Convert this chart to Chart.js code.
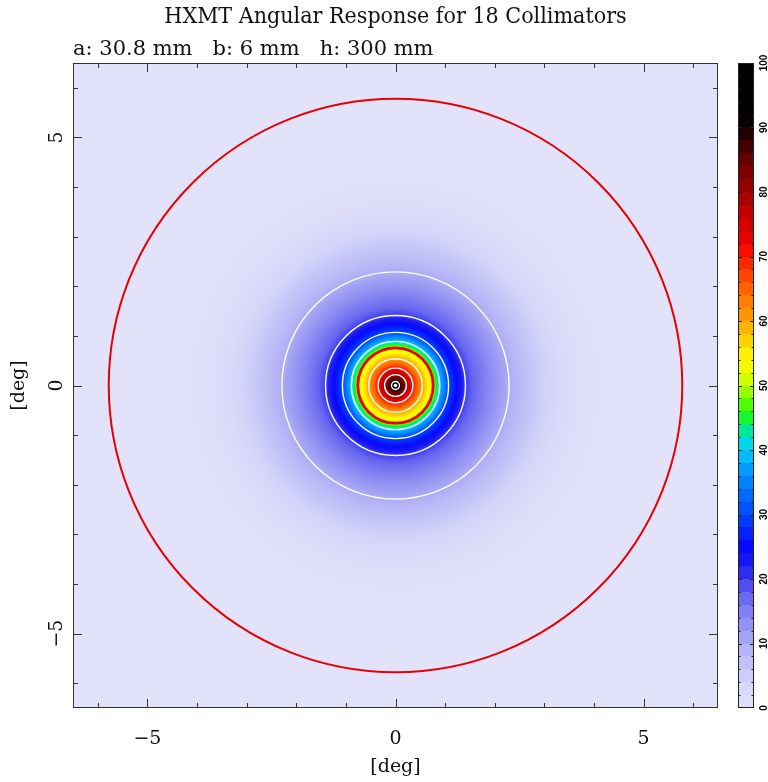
<!DOCTYPE html>
<html>
<head>
<meta charset="utf-8">
<script src="https://cdn.jsdelivr.net/npm/chart.js@4.4.1/dist/chart.umd.min.js"></script>
<style>
    html, body { margin: 0; padding: 0; background: #fff; }
</style>
</head>
<body>
<canvas id="responseChart" width="768" height="782"></canvas>
<script>
// radial response profile: off-axis angle (deg) -> response (%)
const profileRadius = [0, 0.08, 0.22, 0.35, 0.54, 0.76, 0.89, 1.07, 1.41, 1.6, 1.8, 2.0, 2.29, 2.5, 2.8, 3.1, 3.4, 3.7, 4.0, 4.5, 5.78, 9.5];
const profileValue  = [100, 90, 80, 70, 60, 50, 40, 30, 20, 17, 15, 13, 10, 8, 6, 4, 2.5, 1.5, 0.8, 0.3, 0, 0];

// white contour rings (level %, radius deg)
const contourLevels = [90, 80, 70, 60, 40, 30, 20, 10];
const contourRadius = [0.08, 0.22, 0.35, 0.54, 0.89, 1.07, 1.41, 2.29];
// red rings: half maximum and edge of the field of view
const halfRadius = 0.76;
const edgeRadius = 5.78;

// colour table: value -> rgb
const mapStops = [0, 4, 10, 14, 18, 20, 22, 25, 30, 34, 38, 40, 42, 44, 46, 48, 50, 52, 54, 56, 58, 60, 64, 68, 70, 72, 76, 80, 84, 88, 90, 92, 100];
const mapColors = [
    [226, 226, 250], [212, 212, 250], [172, 172, 245], [138, 138, 242], [96, 96, 240], [62, 62, 240],
    [28, 28, 242], [8, 8, 255], [0, 70, 255], [0, 118, 255], [0, 170, 255], [0, 204, 255],
    [0, 226, 214], [0, 240, 90], [40, 255, 0], [120, 255, 0], [185, 255, 0], [232, 250, 0],
    [255, 255, 0], [255, 224, 0], [255, 194, 0], [255, 162, 0], [255, 112, 0], [255, 56, 0],
    [255, 22, 0], [240, 0, 0], [205, 0, 0], [160, 0, 0], [115, 0, 0], [50, 0, 0],
    [16, 0, 0], [0, 0, 0], [0, 0, 0]
];

const axisTicks = [-6, -5, -4, -3, -2, -1, 0, 1, 2, 3, 4, 5, 6];
const axisLabels = [-5, 0, 5];
const barTicks = [0, 10, 20, 30, 40, 50, 60, 70, 80, 90, 100];
const barStep = 2;

function responseAt(r) {
    for (let i = 1; i < profileRadius.length; i++) {
        if (r <= profileRadius[i]) {
            const t = (r - profileRadius[i - 1]) / (profileRadius[i] - profileRadius[i - 1]);
            return profileValue[i - 1] + t * (profileValue[i] - profileValue[i - 1]);
        }
    }
    return 0;
}

function colourFor(v) {
    for (let i = 1; i < mapStops.length; i++) {
        if (v <= mapStops[i]) {
            const t = (v - mapStops[i - 1]) / (mapStops[i] - mapStops[i - 1]);
            const a = mapColors[i - 1], b = mapColors[i];
            return [a[0] + t * (b[0] - a[0]), a[1] + t * (b[1] - a[1]), a[2] + t * (b[2] - a[2])];
        }
    }
    return mapColors[mapColors.length - 1];
}

const ringPx = (chart, r) => chart.scales.x.getPixelForValue(r) - chart.scales.x.getPixelForValue(0);

function ring(r, colour, width) {
    return {
        data: [{ x: 0, y: 0 }],
        pointRadius: c => ringPx(c.chart, r),
        pointBorderColor: colour,
        pointBorderWidth: width,
        pointBackgroundColor: 'rgba(0,0,0,0)'
    };
}

const datasets = [
    ring(halfRadius, '#e80000', 2.8),
    ring(edgeRadius, '#e80000', 2),
    { data: [{ x: 0, y: 0 }], pointRadius: 1.8, pointBorderWidth: 0, pointBackgroundColor: '#ffffff' }
];
contourRadius.forEach(r => datasets.push(ring(r, '#ffffff', 1.4)));

// response map painted pixel by pixel through the x/y scales
const heatmap = {
    id: 'heatmap',
    beforeDatasetsDraw(chart) {
        const { ctx, chartArea: a, scales: { x, y } } = chart;
        const w = Math.round(a.right - a.left), h = Math.round(a.bottom - a.top);
        const off = document.createElement('canvas');
        off.width = w; off.height = h;
        const octx = off.getContext('2d');
        const img = octx.createImageData(w, h);
        for (let j = 0; j < h; j++) {
            const vy = y.getValueForPixel(a.top + j + 0.5);
            for (let i = 0; i < w; i++) {
                const vx = x.getValueForPixel(a.left + i + 0.5);
                const c = colourFor(responseAt(Math.hypot(vx, vy)));
                const k = (j * w + i) * 4;
                img.data[k] = c[0]; img.data[k + 1] = c[1]; img.data[k + 2] = c[2]; img.data[k + 3] = 255;
            }
        }
        octx.putImageData(img, 0, 0);
        ctx.drawImage(off, a.left, a.top, w, h);
    }
};

// frame, inward ticks and the colour bar
const frame = {
    id: 'frame',
    afterDraw(chart) {
        const { ctx, chartArea: a, scales: { x, y, c } } = chart;
        ctx.save();
        ctx.strokeStyle = '#333';
        ctx.lineWidth = 1;
        ctx.strokeRect(Math.round(a.left) + 0.5, Math.round(a.top) + 0.5, Math.round(a.right - a.left) - 1, Math.round(a.bottom - a.top) - 1);
        ctx.beginPath();
        x.ticks.forEach(t => {
            const len = axisLabels.includes(t.value) ? 9 : 5;
            const px = Math.round(x.getPixelForValue(t.value)) + 0.5;
            ctx.moveTo(px, a.bottom); ctx.lineTo(px, a.bottom - len);
            ctx.moveTo(px, a.top); ctx.lineTo(px, a.top + len);
        });
        y.ticks.forEach(t => {
            const len = axisLabels.includes(t.value) ? 9 : 5;
            const py = Math.round(y.getPixelForValue(t.value)) + 0.5;
            ctx.moveTo(a.left, py); ctx.lineTo(a.left + len, py);
            ctx.moveTo(a.right, py); ctx.lineTo(a.right - len, py);
        });
        ctx.stroke();

        // colour bar
        const bx = c.left + 20, bw = 16;
        for (let v = c.min; v < c.max; v += barStep) {
            const y0 = Math.round(c.getPixelForValue(v)), y1 = Math.round(c.getPixelForValue(v + barStep));
            const col = colourFor(v + barStep / 2);
            ctx.fillStyle = `rgb(${col[0]},${col[1]},${col[2]})`;
            ctx.fillRect(bx, y1, bw, y0 - y1);
        }
        ctx.strokeStyle = '#222';
        ctx.strokeRect(bx + 0.5, Math.round(c.top) + 0.5, bw - 1, Math.round(c.bottom - c.top) - 1);
        ctx.beginPath();
        for (let v = c.min + barStep; v < c.max; v += barStep) {
            const len = v % 10 === 0 ? 4 : 2.5;
            const py = Math.round(c.getPixelForValue(v)) + 0.5;
            ctx.moveTo(bx, py); ctx.lineTo(bx + len, py);
            ctx.moveTo(bx + bw, py); ctx.lineTo(bx + bw - len, py);
        }
        ctx.stroke();
        ctx.restore();
    }
};

const serif = "'DejaVu Serif', serif";
const minus = v => (v < 0 ? '\u2212' + Math.abs(v) : String(v));
const useTicks = list => s => { s.ticks = list.map(v => ({ value: v })); };

new Chart(document.getElementById('responseChart'), {
    type: 'scatter',
    data: { datasets: datasets },
    options: {
        responsive: false,
        animation: false,
        events: [],
        layout: { padding: 0 },
        plugins: {
            legend: { display: false },
            tooltip: { enabled: false },
            title: {
                display: true,
                fullSize: false,
                text: 'HXMT Angular Response for 18 Collimators',
                color: '#111',
                font: { family: "'DejaVu Serif Condensed', 'Liberation Serif', serif", size: 23, weight: 'normal' },
                padding: { top: 3.4, bottom: 6.4 }
            },
            subtitle: {
                display: true,
                fullSize: false,
                align: 'start',
                text: 'a: 30.8 mm   b: 6 mm   h: 300 mm',
                color: '#111',
                font: { family: serif, size: 21 },
                padding: { top: 0, bottom: 0.4 }
            }
        },
        scales: {
            x: {
                type: 'linear',
                min: -6.5,
                max: 6.5,
                grid: { display: false },
                border: { display: false },
                afterBuildTicks: useTicks(axisTicks),
                afterFit: s => { s.height = 74; },
                ticks: {
                    autoSkip: false,
                    maxRotation: 0,
                    padding: 12,
                    color: '#111',
                    font: { family: serif, size: 19 },
                    callback: v => (axisLabels.includes(v) ? minus(v) : '')
                },
                title: { display: true, text: '[deg]', color: '#111', font: { family: serif, size: 19 }, padding: { top: 0, bottom: 3.6 } }
            },
            y: {
                type: 'linear',
                min: -6.5,
                max: 6.5,
                grid: { display: false },
                border: { display: false },
                afterBuildTicks: useTicks(axisTicks),
                afterFit: s => { s.width = 73; },
                ticks: {
                    autoSkip: false,
                    minRotation: 90,
                    maxRotation: 90,
                    crossAlign: 'center',
                    padding: -6,
                    color: '#111',
                    font: { family: serif, size: 19 },
                    callback: v => (axisLabels.includes(v) ? minus(v) : '')
                },
                title: { display: true, text: '[deg]', color: '#111', font: { family: serif, size: 19 }, padding: { top: 7.6, bottom: 0 } }
            },
            c: {
                type: 'linear',
                axis: 'y',
                position: 'right',
                min: 0,
                max: 100,
                grid: { display: false },
                border: { display: false },
                afterBuildTicks: useTicks(barTicks),
                afterFit: s => { s.width = 50; },
                ticks: {
                    autoSkip: false,
                    minRotation: 90,
                    maxRotation: 90,
                    crossAlign: 'center',
                    padding: 30,
                    color: '#000',
                    font: { family: "'Liberation Sans', sans-serif", size: 10, weight: 'bold' }
                }
            }
        }
    },
    plugins: [heatmap, frame]
});
</script>
</body>
</html>
